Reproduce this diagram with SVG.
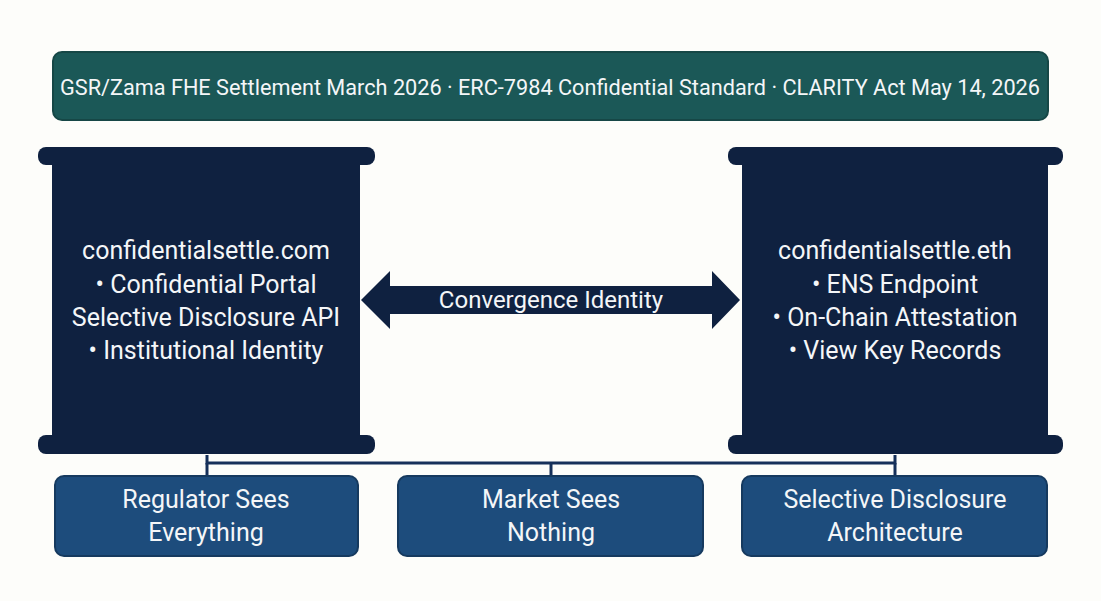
<svg xmlns="http://www.w3.org/2000/svg" width="1101" height="601" viewBox="0 0 1101 601">
<style>
.pil{fill:#0f2140}
.box{fill:#1d4c7c;stroke:#163a5f;stroke-width:2}
.t{font-family:Roboto,"Liberation Sans",sans-serif;fill:#f4f6f8;text-anchor:middle}
.pt{font-size:25px}
.bt{font-size:25px}
.ln{stroke:#16305a;stroke-width:3;fill:none}
</style>
<rect width="1101" height="601" fill="#fdfdfa"/>
<g id="banner">
<rect x="53" y="52" width="995" height="68" rx="9" fill="#1b5857" stroke="#164746" stroke-width="2"/>
<text class="t" x="550" y="95" font-size="22" textLength="980" lengthAdjust="spacingAndGlyphs">GSR/Zama FHE Settlement March 2026 · ERC-7984 Confidential Standard · CLARITY Act May 14, 2026</text>
</g>
<g id="connectors">
<polyline class="ln" points="207,455 207,463 895,463 895,455"/>
<line class="ln" x1="207" y1="463" x2="207" y2="476"/>
<line class="ln" x1="551" y1="463" x2="551" y2="476"/>
<line class="ln" x1="895" y1="463" x2="895" y2="476"/>
<g id="arrow">
<polygon class="pil" points="361,300 390,271 390,286 712,286 712,271 740,300 712,329 712,314 390,314 390,329"/>
<text class="t" x="551" y="308" font-size="24">Convergence Identity</text>
</g>
</g>
<g id="left-pillar">
<rect class="pil" x="38" y="147" width="337" height="18" rx="8"/>
<rect class="pil" x="52" y="155" width="308" height="290"/>
<rect class="pil" x="38" y="435" width="337" height="19" rx="8"/>
<text class="t pt" x="206" y="259">confidentialsettle.com</text>
<text class="t pt" x="206" y="293">• Confidential Portal</text>
<text class="t pt" x="206" y="326">Selective Disclosure API</text>
<text class="t pt" x="206" y="359">• Institutional Identity</text>
</g>
<g id="right-pillar">
<rect class="pil" x="728" y="147" width="335" height="18" rx="8"/>
<rect class="pil" x="742" y="155" width="306" height="290"/>
<rect class="pil" x="728" y="435" width="335" height="19" rx="8"/>
<text class="t pt" x="895" y="259">confidentialsettle.eth</text>
<text class="t pt" x="895" y="293">• ENS Endpoint</text>
<text class="t pt" x="895" y="326">• On-Chain Attestation</text>
<text class="t pt" x="895" y="359">• View Key Records</text>
</g>
<g id="box-regulator">
<rect class="box" x="55" y="476" width="303" height="80" rx="9"/>
<text class="t bt" x="206" y="508">Regulator Sees</text>
<text class="t bt" x="206" y="541">Everything</text>
</g>
<g id="box-market">
<rect class="box" x="398" y="476" width="305" height="80" rx="9"/>
<text class="t bt" x="551" y="508">Market Sees</text>
<text class="t bt" x="551" y="541">Nothing</text>
</g>
<g id="box-selective">
<rect class="box" x="742" y="476" width="305" height="80" rx="9"/>
<text class="t bt" x="895" y="508">Selective Disclosure</text>
<text class="t bt" x="895" y="541">Architecture</text>
</g>
</svg>
